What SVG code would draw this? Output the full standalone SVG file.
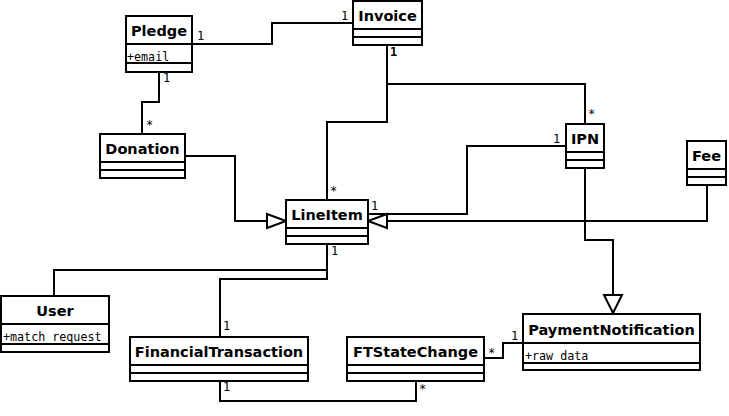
<svg xmlns="http://www.w3.org/2000/svg" width="729" height="416" viewBox="0 0 729 416">
<style>
.box{fill:#fff;stroke:#000;stroke-width:2}
.div{stroke:#000;stroke-width:2}
.name{font-family:"DejaVu Sans",sans-serif;font-weight:bold;font-size:14.5px;text-anchor:middle;fill:#000}
.attr{font-family:"DejaVu Sans Mono",monospace;font-size:11.7px;fill:#000}
.mult{font-family:"DejaVu Sans Mono",monospace;font-size:12px;fill:#000}
.line{fill:none;stroke:#000;stroke-width:2}
.tri{fill:#fff;stroke:#000;stroke-width:2}
</style>
<rect width="729" height="416" fill="#fff"/>
<g id="connectors">
<polyline class="line" points="192,44 272,44 272,23 353,23"/>
<polyline class="line" points="159,72 159,102 142,102 142,134"/>
<polyline class="line" points="185,156 235,156 235,221 267,221"/>
<polyline class="line" points="387,45 387,122 327,122 327,200"/>
<polyline class="line" points="387,84 585,84 585,124"/>
<polyline class="line" points="566,146 467,146 467,214 368,214"/>
<polyline class="line" points="707,185 707,221 387,221"/>
<polyline class="line" points="585,168 585,240 613,240 613,295"/>
<polyline class="line" points="54,296 54,270 327,270"/>
<polyline class="line" points="220,337 220,279 327,279 327,244"/>
<polyline class="line" points="484,358 503,358 503,343 523,343"/>
<polyline class="line" points="220,381 220,401 416,401 416,381"/>
<polygon class="tri" points="267,214 286,221 267,228"/>
<polygon class="tri" points="387,214 368,221 387,228"/>
<polygon class="tri" points="604,295 622,295 613,313"/>
<text class="mult" x="197" y="40">1</text>
<text class="mult" x="341" y="20">1</text>
<text class="mult" x="390" y="56" font-weight="bold">1</text>
<text class="mult" x="163" y="82">1</text>
<text class="mult" x="146" y="129">*</text>
<text class="mult" x="330" y="195">*</text>
<text class="mult" x="371" y="210">1</text>
<text class="mult" x="553" y="143">1</text>
<text class="mult" x="588" y="118">*</text>
<text class="mult" x="331" y="255">1</text>
<text class="mult" x="223" y="330">1</text>
<text class="mult" x="223" y="391">1</text>
<text class="mult" x="488" y="357">*</text>
<text class="mult" x="511" y="340">1</text>
<text class="mult" x="419" y="393">*</text>
</g>
<g id="Pledge">
<rect class="box" x="126" y="16" width="66" height="56"/>
<line class="div" x1="126" y1="44" x2="192" y2="44"/>
<line class="div" x1="126" y1="63" x2="192" y2="63"/>
<text class="name" x="159" y="36">Pledge</text>
<text class="attr" x="127" y="61">+email</text>
</g>
<g id="Invoice">
<rect class="box" x="353" y="1" width="69" height="44"/>
<line class="div" x1="353" y1="29" x2="422" y2="29"/>
<line class="div" x1="353" y1="37" x2="422" y2="37"/>
<text class="name" x="387.5" y="21">Invoice</text>
</g>
<g id="Donation">
<rect class="box" x="100" y="134" width="85" height="44"/>
<line class="div" x1="100" y1="162" x2="185" y2="162"/>
<line class="div" x1="100" y1="170" x2="185" y2="170"/>
<text class="name" x="142.5" y="154">Donation</text>
</g>
<g id="LineItem">
<rect class="box" x="286" y="200" width="82" height="44"/>
<line class="div" x1="286" y1="228" x2="368" y2="228"/>
<line class="div" x1="286" y1="236" x2="368" y2="236"/>
<text class="name" x="327" y="220">LineItem</text>
</g>
<g id="IPN">
<rect class="box" x="566" y="124" width="38" height="44"/>
<line class="div" x1="566" y1="152" x2="604" y2="152"/>
<line class="div" x1="566" y1="160" x2="604" y2="160"/>
<text class="name" x="585" y="144">IPN</text>
</g>
<g id="Fee">
<rect class="box" x="687" y="141" width="39" height="44"/>
<line class="div" x1="687" y1="169" x2="726" y2="169"/>
<line class="div" x1="687" y1="177" x2="726" y2="177"/>
<text class="name" x="706.5" y="161">Fee</text>
</g>
<g id="User">
<rect class="box" x="1" y="296" width="108" height="56"/>
<line class="div" x1="1" y1="324" x2="109" y2="324"/>
<line class="div" x1="1" y1="344" x2="109" y2="344"/>
<text class="name" x="55" y="316">User</text>
<text class="attr" x="3" y="341">+match_request</text>
</g>
<g id="FinancialTransaction">
<rect class="box" x="130" y="337" width="178" height="44"/>
<line class="div" x1="130" y1="365" x2="308" y2="365"/>
<line class="div" x1="130" y1="373" x2="308" y2="373"/>
<text class="name" x="219" y="357">FinancialTransaction</text>
</g>
<g id="FTStateChange">
<rect class="box" x="347" y="337" width="137" height="44"/>
<line class="div" x1="347" y1="365" x2="484" y2="365"/>
<line class="div" x1="347" y1="373" x2="484" y2="373"/>
<text class="name" x="415.5" y="357">FTStateChange</text>
</g>
<g id="PaymentNotification">
<rect class="box" x="523" y="314" width="177" height="56"/>
<line class="div" x1="523" y1="343" x2="700" y2="343"/>
<line class="div" x1="523" y1="363" x2="700" y2="363"/>
<text class="name" x="611.5" y="335">PaymentNotification</text>
<text class="attr" x="525" y="360">+raw_data</text>
</g>
</svg>
